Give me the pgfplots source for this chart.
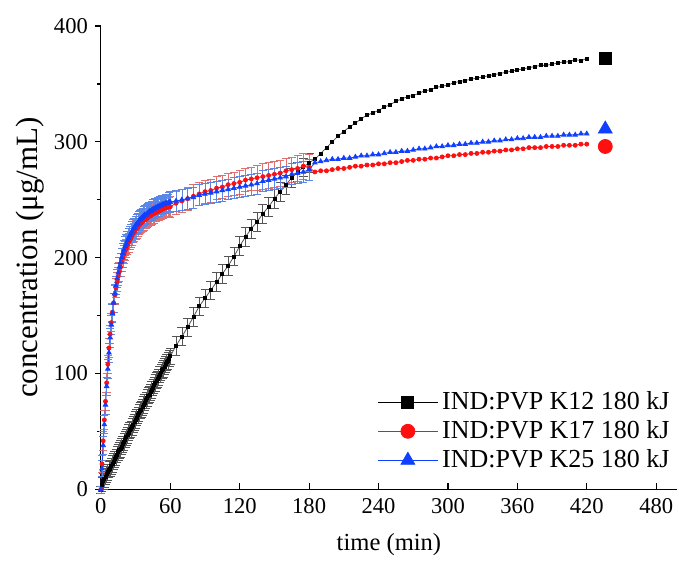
\documentclass[border=0pt]{standalone}
\usepackage{pgfplots}
\pgfplotsset{compat=1.18}
\usepackage{fontspec}
\setmainfont{Liberation Serif}
\definecolor{kred}{HTML}{FF1010}
\definecolor{kblue}{HTML}{1040FF}
\definecolor{ebred}{HTML}{E07070}
\definecolor{ebblue}{HTML}{5C86E6}
\definecolor{ebgray}{HTML}{555555}

\begin{document}
\begin{tikzpicture}
\begin{axis}[
    name=ax,
    scale only axis,
    width=288.4pt, height=232pt,
    xmin=0, xmax=498,
    ymin=0, ymax=400,
    axis lines=left,
    axis line style={-, line width=0.6pt},
    xtick={0,60,...,480},
    ytick={0,100,...,400},
    minor ytick={50,150,250,350},
    xtick align=inside,
    ytick align=outside,
    major tick length=3pt,
    minor tick length=2pt,
    tick style={black, line width=0.6pt},
    /pgf/number format/assume math mode=true,
    tick label style={font=\fontsize{11.3}{13}\selectfont},
    xticklabel style={yshift=-1pt},
    xlabel={time (min)},
    ylabel={concentration (μg/mL)},
    xlabel style={font=\fontsize{12.3}{14}\selectfont, yshift=-3pt},
    ylabel style={font=\fontsize{15.5}{17}\selectfont, yshift=-2pt},
    clip=false,
    legend style={at={(1.005,0.022)}, anchor=south east, draw=none, fill=none,
        font=\fontsize{13}{15.5}\selectfont, row sep=0pt,
        /tikz/every even column/.append style={column sep=2pt}},
    legend cell align=left,
    legend image code/.code={\draw[mark repeat=2,mark phase=2] plot coordinates {(0pt,0pt) (15pt,0pt) (30pt,0pt)};},
]

% ---- IND:PVP K12 (black) ----
\addplot+[forget plot, draw=ebgray, line width=0.4pt, mark=square*, mark size=0.75pt,
    mark options={black, fill=black},
    error bars/.cd, y dir=both, y explicit,
    error bar style={ebgray, line width=0.35pt},
    error mark options={rotate=90, mark size=2.2pt, ebgray, line width=0.35pt}]
    table[x=t, y=y, y error=e] {
t y e
0 0 3
1 4 6
2 7 7
3 9 7
4 11 7
5 13 7
6 15 7
7 17 7
8 18 7
9 20 7
10 22 7
11 24 7
12 26 7
13 28 7
14 30 7
15 32 7
16 34 7
17 35 7
18 37 7
19 39 7
20 41 7
21 43 7
22 45 7
23 47 7
24 49 7
25 51 7
26 52 7
27 54 7
28 56 7
29 58 7
30 60 7
31 62 7
32 64 7
33 66 7
34 68 7
35 69 7
36 71 7
37 73 7
38 75 7
39 77 7
40 79 7
41 81 7
42 82 7
43 84 7
44 86 7
45 88 7
46 90 7
47 92 7
48 94 7
49 95 7
50 97 7
51 99 7
52 101 7
53 103 7
54 104 7
55 106 7
56 108 7
57 110 7
58 111 7
59 113 7
60 115 7
65 124 8
70 132 8
75 140 8
80 149 8
85 158 8
90 165 8
95 172 8
100 179 8
105 186 8
110 193 8
115 201 8
120 210 8
125 218 8
130 225 8
135 231 8
140 238 8
145 244 8
150 251 8
155 257 8
160 263 8
165 269 8
170 274 8
175 278 8
180 282 8
};
\addplot+[forget plot, draw=ebgray, line width=0.4pt, mark=square*, mark size=0.75pt,
    mark options={black, fill=black}]
    table[x=t, y=y] {
t y
180 282
185 285
190 290
195 295
200 300
205 305
210 309
215 313
220 316
225 320
230 323
235 325
240 327
245 330
250 332
255 335
260 337
265 339
270 340
275 342
280 344
285 345
290 347
295 348
300 349
305 351
310 352
315 353
320 354
325 355
330 356
335 357
340 358
345 359
350 360
355 361
360 362
365 363
370 364
375 365
380 366
385 366
390 367
395 368
400 369
405 369
410 371
415 370
420 372
};

% ---- IND:PVP K17 (red) ----
\addplot+[forget plot, draw=kred, line width=0.4pt, mark=*, mark size=1pt,
    mark options={kred, fill=kred},
    error bars/.cd, y dir=both, y explicit,
    error bar style={ebred, line width=0.35pt},
    error mark options={rotate=90, mark size=2pt, ebred, line width=0.35pt}]
    table[x=t, y=y, y error=e] {
t y e
0 0 3
1 22 7
2 42 8
3 60 8
4 76 8
5 92 8
6 108 8
7 122 8
8 134 8
9 144 8
10 153 8
11 161 8
12 168 8
13 174 8
14 179 8
15 184 8
16 188 8
17 192 8
18 196 8
19 200 8
20 203 8
21 206 8
22 208 8
23 211 8
24 213 8
25 215 8
26 217 8
27 219 8
28 221 8
29 222 8
30 224 8
31 225 8
32 226 8
33 228 8
34 229 8
35 230 8
36 231 8
37 232 8
38 233 8
39 233 8
40 234 8
41 235 8
42 236 8
43 236 8
44 237 8
45 238 8
46 238 8
47 239 8
48 239 8
49 240 8
50 240 8
51 241 8
52 241 8
53 242 8
54 242 8
55 243 8
56 243 8
57 243 8
58 244 8
59 244 8
60 244 9
65 247 10
70 249 10
75 251 10
80 253 10
85 255 10
90 257 10
95 258 10
100 260 10
105 261 10
110 263 10
115 264 10
120 265 10
125 267 10
130 268 10
135 269 11
140 270 11
145 271 11
150 272 11
155 273 11
160 275 11
165 276 11
170 277 11
175 279 11
180 278 11
};
\addplot+[forget plot, draw=kred, line width=0.4pt, mark=*, mark size=1pt,
    mark options={kred, fill=kred}]
    table[x=t, y=y] {
t y
180 278
185 274
190 275
195 275
200 276
205 277
210 277
215 278
220 279
225 279
230 280
235 280
240 281
245 281
250 282
255 282
260 283
265 284
270 284
275 285
280 285
285 286
290 286
295 287
300 288
305 288
310 289
315 289
320 290
325 290
330 291
335 291
340 292
345 292
350 293
355 293
360 294
365 294
370 295
375 295
380 295
385 296
390 296
395 296
400 297
405 297
410 297
415 298
420 298
};

% ---- IND:PVP K25 (blue) ----
\addplot+[forget plot, draw=kblue, line width=0.4pt, mark=triangle*, mark size=1.3pt,
    mark options={kblue, fill=kblue},
    error bars/.cd, y dir=both, y explicit,
    error bar style={ebblue, line width=0.35pt},
    error mark options={rotate=90, mark size=2pt, ebblue, line width=0.35pt}]
    table[x=t, y=y, y error=e] {
t y e
0 0 3
1 18 7
2 38 8
3 56 8
4 73 8
5 89 8
6 104 8
7 118 8
8 131 8
9 142 8
10 152 8
11 161 8
12 169 8
13 176 8
14 182 8
15 187 8
16 192 8
17 196 8
18 200 8
19 204 8
20 207 8
21 210 8
22 212 8
23 215 8
24 217 8
25 219 8
26 221 8
27 223 8
28 225 8
29 226 8
30 228 8
31 229 8
32 230 8
33 232 8
34 233 8
35 234 8
36 235 8
37 236 8
38 237 8
39 237 8
40 238 8
41 239 8
42 240 8
43 240 8
44 241 8
45 242 8
46 242 8
47 243 8
48 243 8
49 244 8
50 244 8
51 245 8
52 245 8
53 246 8
54 246 8
55 246 8
56 247 8
57 247 8
58 247 8
59 248 8
60 248 9
65 249 9
70 250 9
75 251 9
80 252 9
85 254 9
90 255 9
95 256 9
100 257 9
105 258 9
110 259 9
115 260 9
120 261 9
125 262 9
130 263 9
135 264 9
140 266 9
145 267 9
150 268 9
155 269 9
160 270 9
165 272 9
170 273 9
175 274 9
180 276 9
};
\addplot+[forget plot, draw=kblue, line width=0.4pt, mark=triangle*, mark size=1.3pt,
    mark options={kblue, fill=kblue}]
    table[x=t, y=y] {
t y
180 276
185 282
190 283
195 284
200 285
205 285
210 286
215 286
220 287
225 288
230 288
235 289
240 289
245 290
250 291
255 291
260 292
265 292
270 293
275 294
280 294
285 295
290 296
295 296
300 297
305 297
310 298
315 298
320 299
325 299
330 300
335 300
340 301
345 301
350 302
355 302
360 303
365 303
370 304
375 304
380 304
385 305
390 305
395 305
400 306
405 306
410 306
415 307
420 307
};

% ---- large end markers ----
\addplot[forget plot, only marks, mark=square*, mark size=3pt, black] coordinates {(436,372)};
\addplot[forget plot, only marks, mark=*, mark size=3.5pt, kred] coordinates {(436,296)};
\addplot[forget plot, only marks, mark=triangle*, mark size=4pt, kblue] coordinates {(436,311)};

% ---- legend ----
\addlegendimage{black, line width=0.4pt, mark=square*, mark size=3pt, mark options={fill=black}}
\addlegendentry{IND:PVP K12 180 kJ}
\addlegendimage{kred, line width=0.4pt, mark=*, mark size=3.5pt, mark options={fill=kred}}
\addlegendentry{IND:PVP K17 180 kJ}
\addlegendimage{kblue, line width=0.4pt, mark=triangle*, mark size=4pt, mark options={fill=kblue}}
\addlegendentry{IND:PVP K25 180 kJ}
\end{axis}
\pgfresetboundingbox
\path ([xshift=-50.5pt,yshift=-41pt]ax.south west) rectangle ([xshift=1pt,yshift=13pt]ax.north east);
\end{tikzpicture}
\end{document}
